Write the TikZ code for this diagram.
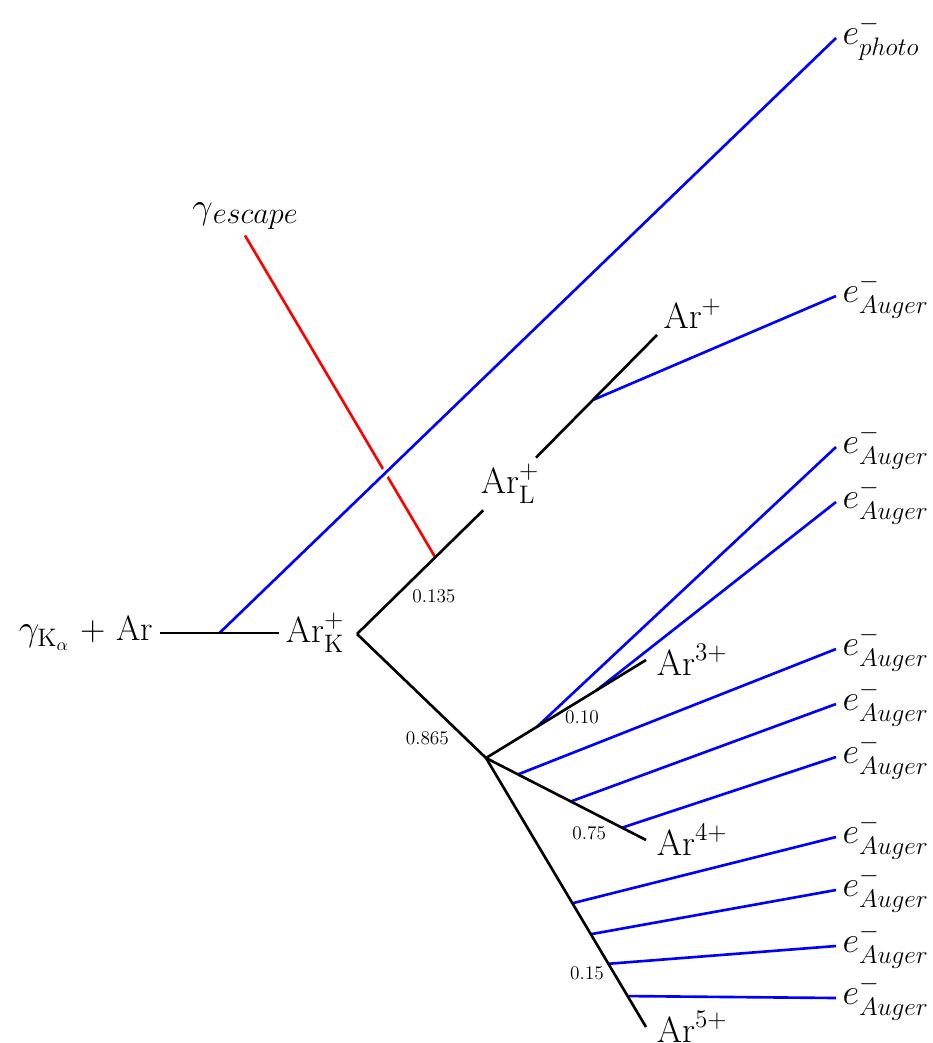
\documentclass[tikz,border=0pt]{standalone}
\usepackage{amsmath}
\usepackage{tikz}
\usetikzlibrary{positioning,calc}

\begin{document}
\begin{tikzpicture}[x=0.02cm, y=-0.02cm,
  ion/.style={inner sep=3.5pt, font=\fontsize{20}{24}\selectfont},
  ionend/.style={ion, anchor=west, inner xsep=6pt},
  elab/.style={ion, anchor=west},
  prob/.style={inner sep=2pt, font=\fontsize{11}{13}\selectfont},
  decay/.style={black, line width=1.5pt},
  elec/.style={blue, line width=1.5pt},
  phot/.style={red, line width=1.5pt}
]
  \useasboundingbox (0,0) rectangle (932,1043);

  % Nodes
  \node[ion] (gam)  at (86,633)  {$\gamma_{\mathrm{K}_\alpha}$ + Ar};
  \node[ion] (ArK)  at (315,633) {$\mathrm{Ar}^+_{\mathrm{K}}$};
  \node[ion] (ArL)  at (510,484) {$\mathrm{Ar}^+_{\mathrm{L}}$};
  \node[ion, anchor=south west] (ArP) at (657,335) {$\mathrm{Ar}^+$};
  \node[ionend] (Ar3) at (646,660)  {$\mathrm{Ar}^{3+}$};
  \node[ionend] (Ar4) at (646,840)  {$\mathrm{Ar}^{4+}$};
  \node[ionend] (Ar5) at (646,1027) {$\mathrm{Ar}^{5+}$};
  \node[ion] (gesc) at (245,216)
    {$\gamma$\raisebox{-2.5pt}{\fontsize{16.5}{18}\selectfont$escape$}};
  \coordinate (K) at (357,634);
  \coordinate (M) at (486,758);

  % Electrons
  \node[elab] (eph) at (836,38)  {$e^-_{photo}$};
  \node[elab] (e1)  at (836,296) {$e^-_{Auger}$};
  \node[elab] (e2)  at (836,447) {$e^-_{Auger}$};
  \node[elab] (e3)  at (836,502) {$e^-_{Auger}$};
  \node[elab] (e4)  at (836,649) {$e^-_{Auger}$};
  \node[elab] (e5)  at (836,704) {$e^-_{Auger}$};
  \node[elab] (e6)  at (836,757) {$e^-_{Auger}$};
  \node[elab] (e7)  at (836,837) {$e^-_{Auger}$};
  \node[elab] (e8)  at (836,890) {$e^-_{Auger}$};
  \node[elab] (e9)  at (836,946) {$e^-_{Auger}$};
  \node[elab] (e10) at (836,998) {$e^-_{Auger}$};

  % Decay tree
  \path (gam) -- coordinate[pos=0.5] (ph) (ArK);
  \path (K) -- coordinate[pos=0.62] (esc) (ArL);
  \path (ArL) -- coordinate[pos=0.47] (a1) (ArP.south west);
  \path (M) -- coordinate[pos=0.32] (b1) coordinate[pos=0.69] (b2) (Ar3.west);
  \path (M) -- coordinate[pos=0.2] (c1) coordinate[pos=0.53] (c2)
               coordinate[pos=0.85] (c3) (Ar4.west);
  \path (M) -- coordinate[pos=0.54] (d1) coordinate[pos=0.655] (d2)
               coordinate[pos=0.765] (d3) coordinate[pos=0.885] (d4) (Ar5.west);

  \draw[phot] (esc) -- (gesc.south);
  \draw[elec, preaction={draw=white, line width=5pt}] (ph) -- (eph.west);

  \draw[elec] (a1) -- (e1.west);
  \draw[elec] (b1) -- (e2.west);
  \draw[elec] (b2) -- (e3.west);
  \draw[elec] (c1) -- (e4.west);
  \draw[elec] (c2) -- (e5.west);
  \draw[elec] (c3) -- (e6.west);
  \draw[elec] (d1) -- (e7.west);
  \draw[elec] (d2) -- (e8.west);
  \draw[elec] (d3) -- (e9.west);
  \draw[elec] (d4) -- (e10.west);

  \draw[decay] (gam) -- (ArK);
  \draw[decay] (K) -- node[prob, pos=0.4, below right] {0.135} (ArL);
  \draw[decay] (ArL) -- (ArP.south west);
  \draw[decay] (K) -- node[prob, pos=0.75, below left] {0.865} (M);
  \draw[decay] (M) -- node[prob, pos=0.6, below=4pt] {0.10} (Ar3.west);
  \draw[decay] (M) -- node[prob, pos=0.78, below left] {0.75} (Ar4.west);
  \draw[decay] (M) -- node[prob, pos=0.8, left=3pt] {0.15} (Ar5.west);
\end{tikzpicture}
\end{document}
